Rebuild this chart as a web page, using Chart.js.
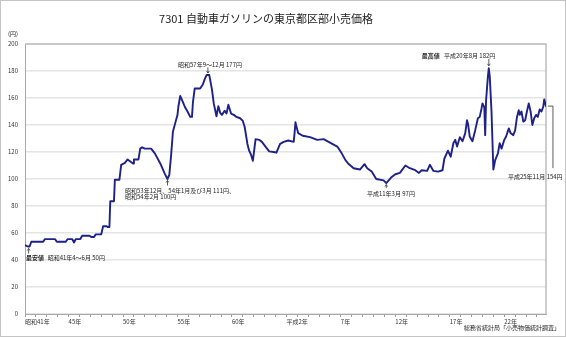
<!DOCTYPE html>
<html lang="ja">
<head>
<meta charset="utf-8">
<title>7301 自動車ガソリンの東京都区部小売価格</title>
<script src="https://cdn.jsdelivr.net/npm/chart.js@4.4.1/dist/chart.umd.min.js"></script>
<style>
    html, body { margin: 0; padding: 0; background: #fff; }
    #wrap { position: relative; width: 566px; height: 337px; }
    #chart { position: absolute; left: 0; top: 0; }
    #title {
        position: absolute; left: 0; top: 12px; width: 532px;
        text-align: center; font: 11px "Noto Sans CJK JP", sans-serif;
        line-height: 13px; color: #222;
    }
</style>
</head>
<body>
<div id="wrap">
    <canvas id="chart" width="566" height="337"></canvas>
    <div id="title">7301 自動車ガソリンの東京都区部小売価格</div>
</div>
<script>
// Monthly retail price (yen per litre), time as decimal year (Jan = .00)
const years = [
    1966.0, 1966.25, 1966.42, 1966.58, 1967.67, 1967.83, 1968.75, 1968.92, 1969.75, 1969.92,
    1970.33, 1970.5, 1970.67, 1971.08, 1971.25, 1971.92, 1972.08, 1972.33, 1972.5, 1973.0,
    1973.17, 1973.5, 1973.58, 1973.75, 1973.83, 1974.17, 1974.25, 1974.67, 1974.83, 1975.17,
    1975.42, 1975.67, 1975.92, 1976.0, 1976.42, 1976.58, 1976.75, 1977.0, 1977.58, 1977.92,
    1978.42, 1978.83, 1979.08, 1979.25, 1979.42, 1979.58, 1979.83, 1980.0, 1980.08, 1980.25,
    1980.5, 1980.67, 1980.92, 1981.17, 1981.33, 1981.42, 1981.58, 1982.08, 1982.33, 1982.5,
    1982.67, 1982.92, 1983.17, 1983.33, 1983.58, 1983.75, 1983.92, 1984.08, 1984.33, 1984.5,
    1984.67, 1984.92, 1985.17, 1985.42, 1985.75, 1986.0, 1986.17, 1986.42, 1986.58, 1986.75,
    1986.92, 1987.17, 1987.5, 1987.75, 1988.08, 1988.42, 1988.83, 1989.08, 1989.42, 1989.75,
    1990.17, 1990.67, 1990.75, 1990.83, 1990.92, 1991.08, 1991.5, 1992.17, 1992.83, 1993.42,
    1994.0, 1994.67, 1995.08, 1995.42, 1995.67, 1996.17, 1996.75, 1997.17, 1997.42, 1997.83,
    1998.25, 1998.92, 1999.17, 1999.67, 2000.0, 2000.42, 2000.92, 2001.33, 2001.83, 2002.17,
    2002.42, 2002.92, 2003.17, 2003.5, 2003.92, 2004.33, 2004.5, 2004.83, 2005.08, 2005.33,
    2005.5, 2005.67, 2005.92, 2006.17, 2006.42, 2006.58, 2006.67, 2006.83, 2007.08, 2007.33,
    2007.58, 2007.75, 2007.92, 2008.0, 2008.17, 2008.25, 2008.33, 2008.5, 2008.58, 2008.67,
    2008.83, 2009.0, 2009.17, 2009.42, 2009.58, 2009.75, 2010.0, 2010.17, 2010.42, 2010.58,
    2010.83, 2011.0, 2011.17, 2011.33, 2011.42, 2011.58, 2011.75, 2011.92, 2012.08, 2012.25,
    2012.42, 2012.58, 2012.75, 2012.92, 2013.08, 2013.25, 2013.42, 2013.58, 2013.67, 2013.83
];
const prices = [
    51, 50, 50, 53.5, 53.5, 55.5, 55.5, 53.5, 53.5, 55.5,
    55.5, 53, 55.5, 55.5, 58, 58, 57, 57, 59, 59,
    65, 65, 64.5, 64.5, 83.5, 83.5, 99.5, 99.5, 110.5, 112,
    114.5, 113, 111.5, 114.5, 114.5, 122.5, 123.5, 122.5, 122.5, 119,
    111.5, 104, 100, 103, 118, 135, 142.5, 147.5, 153.5, 161.5,
    157, 153.5, 150, 146, 146, 157, 167, 167, 170, 174,
    177, 177, 166, 156, 146.5, 154, 149, 147.5, 150.5, 148.5,
    155, 148.5, 147.5, 146, 145, 143, 138.5, 126, 121, 118,
    113.5, 129.5, 129, 127.5, 124, 120.5, 120, 119.5, 126, 127.5,
    128.5, 127.5, 134, 142, 139, 134, 132, 131, 129, 129.5,
    127, 124, 119, 114, 111.5, 108, 107, 111, 108, 105.5,
    100, 99, 97, 101.5, 103.5, 104.5, 110, 108, 106.5, 104.5,
    106.5, 106, 110.5, 106, 105.5, 106.5, 115, 121, 116.5, 126.5,
    129, 124, 131, 128, 134, 143.5, 141, 131.5, 128, 136,
    145, 146, 152.5, 156, 153, 132.5, 158, 176, 182, 176,
    150, 107, 114, 119, 126.5, 122.5, 129, 131.5, 137.5, 134,
    132.5, 136, 146, 151, 147.5, 150, 142.5, 143.5, 150, 156,
    150, 140, 145, 147.5, 146, 151.5, 150, 153.5, 159, 154
];

// Axis ticks
const tickYears = [];
for (let y = 1966; y <= 2013; y++) tickYears.push(y);
const labelYears = [1966, 1970, 1975, 1980, 1985, 1990, 1995, 2000, 2005, 2010];
const labelTexts = ['昭和41年', '45年', '50年', '55年', '60年', '平成2年', '7年', '12年', '17年', '22年'];

const FONT = '"Noto Sans CJK JP", sans-serif';

// Callouts: anchor in data units, text offset in pixels from the anchor
const notes = [
    { x: 1966 + 4 / 12, y: 50, head: '最安値', headDx: -2.6, dx: 19, dy: 11.5,
      lines: ['昭和41年4～6月 50円'], arrow: [7, 2] },
    { x: 1979 + 1 / 12, y: 100, dx: -42.5, dy: 11.3,
      lines: ['昭和53年12月、54年1月及び3月 111円、', '昭和54年2月 100円'], arrow: [6.5, 1.5] },
    { x: 1982 + 9.5 / 12, y: 177, dx: -29.9, dy: -10.3,
      lines: ['昭和57年9～12月 177円'], arrow: [-7.5, -2] },
    { x: 1999 + 2 / 12, y: 97, dx: -19.3, dy: 10.3,
      lines: ['平成11年3月 97円'], arrow: [5, 1.5] },
    { x: 2008 + 7 / 12, y: 182, head: '最高値', headDx: -67, dx: -44.8, dy: -12.3,
      lines: ['平成20年8月 182円'], arrow: [-9.3, -2.5] }
];

function drawArrow(ctx, x, y0, y1) {
    const dir = y1 > y0 ? 1 : -1;
    ctx.beginPath();
    ctx.moveTo(x, y0);
    ctx.lineTo(x, y1);
    ctx.moveTo(x - 1.4, y1 - dir * 2);
    ctx.lineTo(x, y1);
    ctx.lineTo(x + 1.4, y1 - dir * 2);
    ctx.stroke();
}

const decorations = {
    id: 'decorations',
    beforeDatasetsDraw(chart) {
        const { ctx, chartArea: a } = chart;
        ctx.save();
        ctx.strokeStyle = '#bdbdbd';
        ctx.lineWidth = 1.5;
        ctx.beginPath();
        ctx.moveTo(a.left, a.top);
        ctx.lineTo(a.right, a.top);
        ctx.lineTo(a.right, a.bottom);
        ctx.stroke();
        ctx.restore();
    },
    afterDatasetsDraw(chart) {
        const { ctx } = chart;
        const xs = chart.scales.x, ys = chart.scales.y;
        ctx.save();
        ctx.fillStyle = '#222';
        ctx.strokeStyle = '#333';
        ctx.lineWidth = 0.8;
        ctx.textBaseline = 'middle';
        ctx.textAlign = 'left';

        notes.forEach(n => {
            const px = xs.getPixelForValue(n.x);
            const py = ys.getPixelForValue(n.y);
            if (n.head) {
                ctx.font = 'bold 6px ' + FONT;
                ctx.fillText(n.head, px + n.headDx, py + n.dy);
            }
            ctx.font = '6px ' + FONT;
            n.lines.forEach((t, i) => ctx.fillText(t, px + n.dx, py + n.dy + i * 6.5));
            drawArrow(ctx, px, py + n.arrow[0], py + n.arrow[1]);
        });

        // latest value with a bracket down to its label
        const last = years.length - 1;
        const lx = xs.getPixelForValue(years[last]);
        const ly = ys.getPixelForValue(prices[last]);
        ctx.beginPath();
        ctx.moveTo(lx + 2, ly);
        ctx.lineTo(lx + 7, ly);
        ctx.lineTo(lx + 7, ly + 62);
        ctx.stroke();
        ctx.font = '6px ' + FONT;
        ctx.fillText('平成25年11月 ' + prices[last] + '円', lx - 38, ly + 70.5);

        // unit and source
        ctx.fillText('(円)', 8, 34);
        ctx.textAlign = 'right';
        ctx.fillText('総務省統計局「小売物価統計調査」', 560, 328);

        // outer frame
        ctx.strokeStyle = '#c4c4c4';
        ctx.lineWidth = 1;
        ctx.strokeRect(0.5, 0.5, chart.width - 1, chart.height - 1);
        ctx.restore();
    }
};

new Chart(document.getElementById('chart'), {
    type: 'line',
    data: {
        datasets: [{
            data: years.map((x, i) => ({ x, y: prices[i] })),
            borderColor: '#1d2188',
            borderWidth: 1.9,
            borderJoinStyle: 'round',
            borderCapStyle: 'round',
            pointRadius: 0,
            tension: 0,
            fill: false
        }]
    },
    options: {
        responsive: false,
        animation: false,
        devicePixelRatio: 1,
        layout: { padding: { top: 44, right: 20, bottom: 0, left: 0 } },
        plugins: {
            legend: { display: false },
            tooltip: { enabled: false },
            title: { display: false }
        },
        scales: {
            x: {
                type: 'linear',
                min: 1966,
                max: 2013 + 10 / 12,
                afterBuildTicks: (scale) => {
                    scale.ticks = tickYears.map(v => ({ value: v }));
                },
                afterFit: (scale) => { scale.height = 23; },
                ticks: {
                    autoSkip: false,
                    maxRotation: 0,
                    align: 'start',
                    padding: 1,
                    color: '#333',
                    font: { size: 6, family: FONT },
                    callback: (v) => {
                        const i = labelYears.indexOf(v);
                        return i >= 0 ? labelTexts[i] : '';
                    }
                },
                grid: { drawOnChartArea: false, drawTicks: true, tickLength: 3, color: '#9a9a9a' },
                border: { color: '#a8a8a8', width: 1 }
            },
            y: {
                min: 0,
                max: 200,
                afterFit: (scale) => { scale.width = 25; },
                ticks: {
                    stepSize: 20,
                    padding: 7,
                    color: '#333',
                    font: { size: 6, family: FONT }
                },
                grid: { color: '#e4e4e4', lineWidth: 1.5, drawTicks: false },
                border: { color: '#a8a8a8', width: 1 }
            }
        }
    },
    plugins: [decorations]
});
</script>
</body>
</html>
